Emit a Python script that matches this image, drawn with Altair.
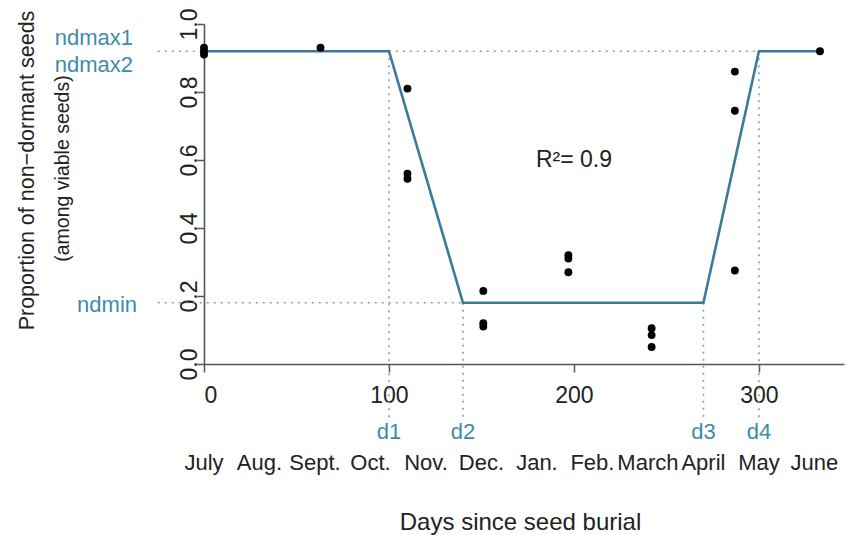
import altair as alt
import pandas as pd

# ---- data ----
obs_days = [0, 0, 0, 63, 110, 110, 110, 151, 151, 151, 197, 197, 197, 242, 242, 242, 287, 287, 287, 333]
obs_prop = [0.93, 0.92, 0.91, 0.93, 0.81, 0.56, 0.545, 0.215, 0.12, 0.11, 0.32, 0.31, 0.27, 0.105, 0.085, 0.05, 0.86, 0.745, 0.275, 0.92]

fit_days = [0, 100, 140, 270, 300, 333]
fit_prop = [0.92, 0.92, 0.18, 0.18, 0.92, 0.92]

ndmax = 0.92
ndmin = 0.18
d_names = ["d1", "d2", "d3", "d4"]
d_days = [100, 140, 270, 300]
d_top = [0.92, 0.18, 0.18, 0.92]

months = ["July", "Aug.", "Sept.", "Oct.", "Nov.", "Dec.", "Jan.", "Feb.", "March", "April", "May", "June"]
month_days = [0, 30, 60, 90, 120, 150, 180, 210, 240, 270, 300, 330]

x_ticks = [0, 100, 200, 300]
y_ticks = [0.0, 0.2, 0.4, 0.6, 0.8, 1.0]

y_title_1 = "Proportion of non\u2212dormant seeds"
y_title_2 = "(among viable seeds)"

FONT = "Liberation Sans"
TEAL = "#3d8cad"
LINE = "#3a7a9c"
DOT = "#7aa6a0"

xscale = alt.Scale(domain=[0, 346], nice=False, zero=False)
yscale = alt.Scale(domain=[0, 1], nice=False, zero=False)

xaxis = alt.Axis(values=x_ticks, format="d", grid=False, domainColor="#555", domainWidth=1.6,
                 tickColor="#555", tickWidth=1.5, tickSize=8, labelFontSize=23, labelColor="#222",
                 labelPadding=12, labelFont=FONT, title="Days since seed burial", titleFont=FONT,
                 titleFontSize=24, titleFontWeight="normal", titleColor="#222", titleX=316, titleY=158,
                 titleBaseline="middle", titleAlign="center")
yaxis = alt.Axis(values=y_ticks, format=".1f", grid=False, domainColor="#555", domainWidth=1.6,
                 tickColor="#555", tickWidth=1.5, tickSize=7, labelFontSize=23, labelColor="#222",
                 labelAngle=270, labelAlign="center", labelBaseline="alphabetic", labelPadding=1,
                 labelFont=FONT,
                 title=y_title_1, titleFont=FONT,
                 titleFontSize=21.5, titleFontWeight="normal", titleColor="#222", titleAngle=270,
                 titleX=-177, titleY=146, titleAlign="center", titleBaseline="middle")

X = alt.X("x:Q", scale=xscale, axis=xaxis)
Y = alt.Y("y:Q", scale=yscale, axis=yaxis)

obs = pd.DataFrame({"x": obs_days, "y": obs_prop})
fit = pd.DataFrame({"x": fit_days, "y": fit_prop})
hlines = pd.DataFrame({"x": [-25, -25], "x2": [300, 140], "y": [ndmax, ndmin]})
vlines = pd.DataFrame({"x": d_days, "y": d_top, "y2": [-0.16] * 4})
dlab = pd.DataFrame({"x": d_days, "y": [0] * 4, "t": d_names})
mlab = pd.DataFrame({"x": month_days, "y": [0] * 12, "t": months})
nd_lab = pd.DataFrame({"x": [0, 0, 0], "y": [ndmax, ndmax, ndmin], "t": ["ndmax1", "ndmax2", "ndmin"],
                       "dy": [-13, 14, 2], "dx": [-71, -71, -67]})
r2 = pd.DataFrame({"x": [200], "y": [0.6], "t": ["R\u00b2= 0.9"]})
yt2 = pd.DataFrame({"x": [-76], "y": [0.575], "t": [y_title_2]})

dash = [2, 5]
h = alt.Chart(hlines).mark_rule(color=DOT, strokeWidth=1.6, strokeDash=dash).encode(
    x=X, x2="x2:Q", y=Y)
v = alt.Chart(vlines).mark_rule(color=DOT, strokeWidth=1.6, strokeDash=dash).encode(
    x=X, y=Y, y2="y2:Q")
fitl = alt.Chart(fit).mark_line(color=LINE, strokeWidth=2.6).encode(x=X, y=Y)
pts = alt.Chart(obs).mark_circle(color="black", opacity=1, size=62).encode(x=X, y=Y)

dtext = alt.Chart(dlab).mark_text(font=FONT, fontSize=22, color=TEAL, dy=68, baseline="middle").encode(
    x=X, y=Y, text="t:N")
mtext = alt.Chart(mlab).mark_text(font=FONT, fontSize=22, color="#222", dy=99, baseline="middle").encode(
    x=X, y=Y, text="t:N")
ndt = [
    alt.Chart(nd_lab.iloc[[i]]).mark_text(font=FONT, fontSize=22, color=TEAL, align="right",
                                          baseline="middle", dx=int(nd_lab.dx[i]), dy=int(nd_lab.dy[i])
                                          ).encode(x=X, y=Y, text="t:N")
    for i in range(3)
]
r2t = alt.Chart(r2).mark_text(font=FONT, fontSize=23, color="#222", baseline="middle").encode(
    x=X, y=Y, text="t:N")
yt2t = alt.Chart(yt2).mark_text(font=FONT, fontSize=19.5, color="#222", baseline="middle",
                                align="center", angle=270).encode(x=X, y=Y, text="t:N")

chart = alt.layer(h, v, fitl, pts, dtext, mtext, *ndt, r2t, yt2t).properties(
    width=640, height=340,
    padding={"left": 204, "top": 24, "right": 7, "bottom": 171},
    autosize=alt.AutoSizeParams(type="none"),
    background="white",
).configure_view(stroke=None)

chart.save("out.html", embed_options={"renderer": "svg", "actions": False})
